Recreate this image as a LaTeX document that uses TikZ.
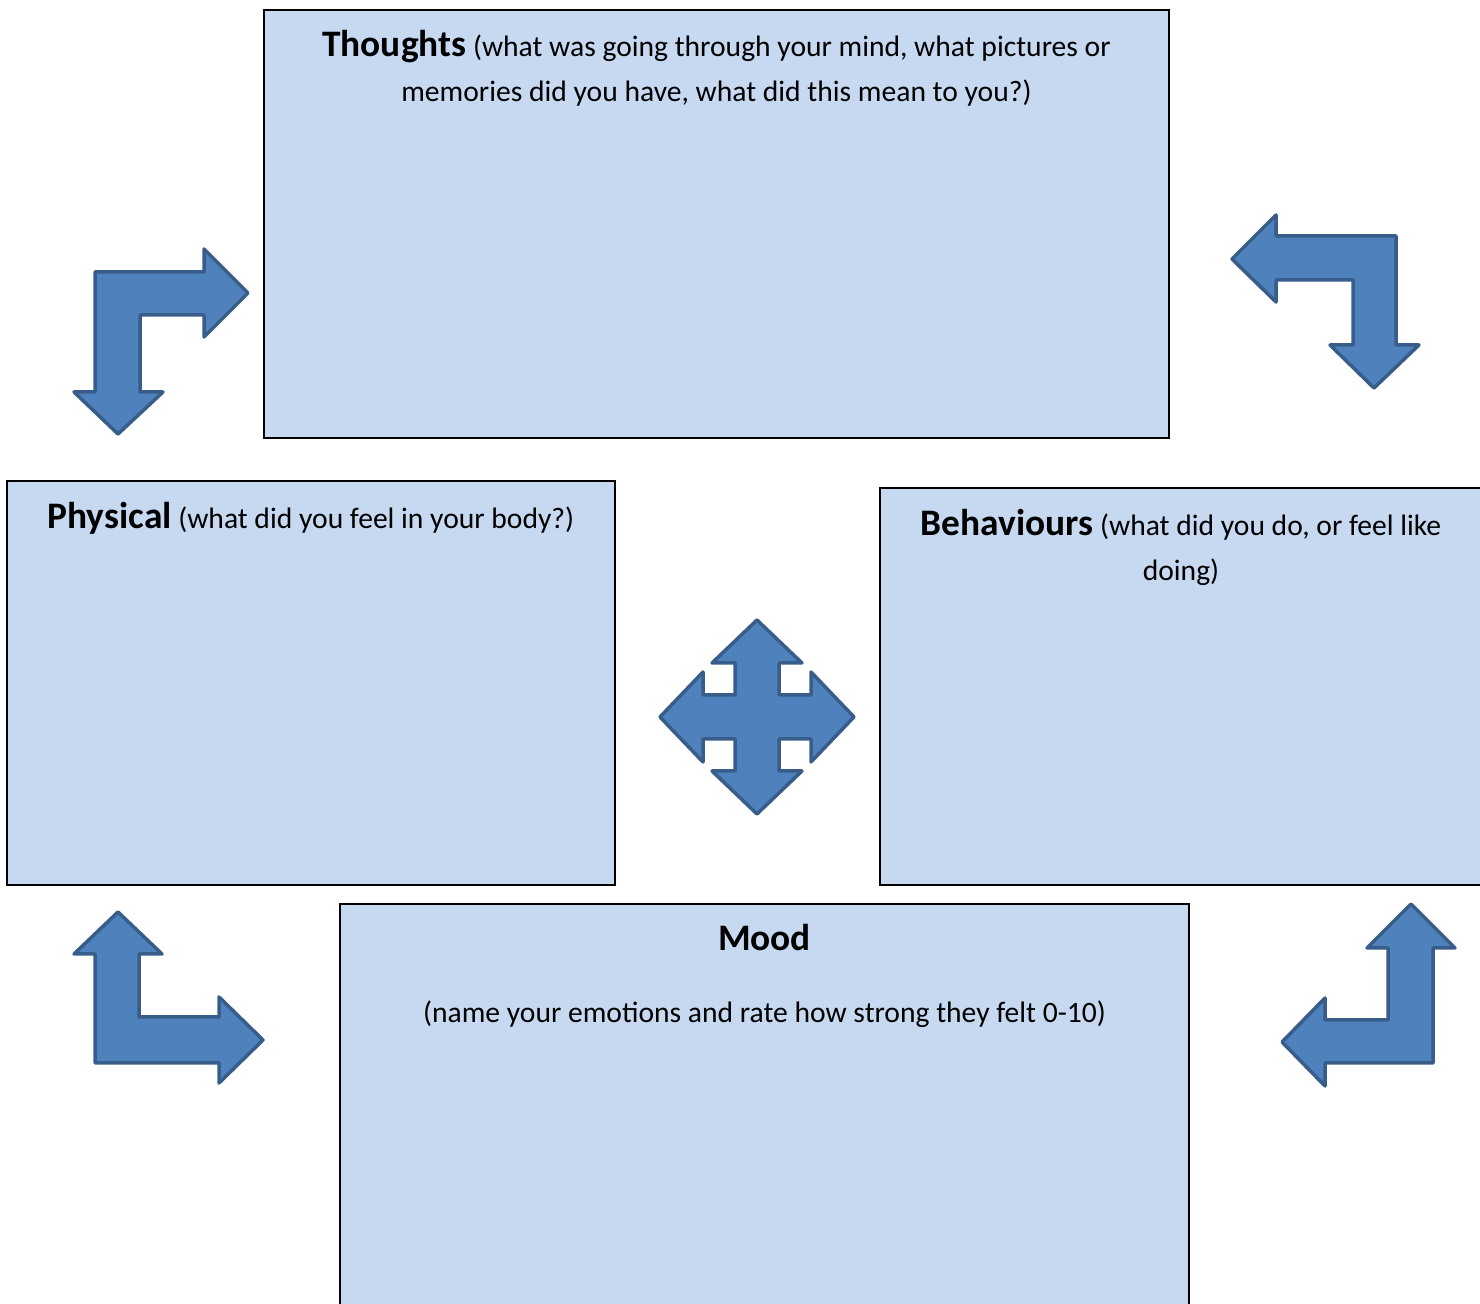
\documentclass[tikz,border=0pt]{standalone}
\usepackage{fontspec}
\setmainfont{Carlito}
\usepackage{tikz}
\usetikzlibrary{positioning}
\definecolor{boxfill}{HTML}{C6D9F1}
\definecolor{arrowfill}{HTML}{4F81BD}
\definecolor{arrowline}{HTML}{385D8A}
\newcommand{\hd}[1]{{\fontsize{18.7}{22.5}\selectfont\bfseries #1}}

\begin{document}
\begin{tikzpicture}[x=0.5pt,y=-0.5pt,
    panel/.style={draw=black, line width=1pt, fill=boxfill, rectangle, inner sep=0pt, anchor=north west},
    lbl/.style={font=\fontsize{14.8}{22.5}\selectfont, align=center, inner sep=0pt, anchor=north},
    blockarrow/.style={fill=arrowfill, draw=arrowline, line width=1.75pt, line join=round}]
    \useasboundingbox (0,0) rectangle (1480,1304);
    % panels
    \node[panel, minimum width=452.5pt, minimum height=214pt] (thoughts) at (263,9) {};
    \node[panel, minimum width=304pt, minimum height=202pt] (physical) at (6,480) {};
    \node[panel, minimum width=301pt, minimum height=198.5pt] (behaviours) at (879,487) {};
    \node[panel, minimum width=424.5pt, minimum height=215pt] (mood) at (339,903) {};
    % labels
    \node[lbl] (thoughtsText) at ([yshift=-10.5pt]thoughts.north)
      {\hd{Thoughts} (what was going through your mind, what pictures or\\memories did you have, what did this mean to you?)};
    \node[lbl] (physicalText) at ([yshift=-11pt]physical.north)
      {\hd{Physical} (what did you feel in your body?)};
    \node[lbl] (behavioursText) at ([yshift=-11pt]behaviours.north)
      {\hd{Behaviours} (what did you do, or feel like\\doing)};
    \node[lbl] (moodTitle) at ([yshift=-10.5pt]mood.north) {\hd{Mood}};
    \node[lbl, below=24.5pt of moodTitle] (moodNote)
      {(name your emotions and rate how strong they felt 0-10)};
    % arrows
    \draw[blockarrow] (95,392) -- (95,272) -- (204,272) -- (204,249) -- (248,293) -- (204,337)
      -- (204,315) -- (140,315) -- (140,392) -- (163,392) -- (118,434) -- (74,392) -- cycle;
    \draw[blockarrow] (1232,259) -- (1276,215) -- (1276,236) -- (1396,236) -- (1396,345) -- (1419,345)
      -- (1374,388) -- (1330,345) -- (1353,345) -- (1353,280) -- (1276,280) -- (1276,302) -- cycle;
    \draw[blockarrow, shift={(757,717)}] (0,-97) -- (45,-54) -- (22,-54) -- (22,-22) -- (54,-22) -- (54,-45)
      -- (97,0) -- (54,45) -- (54,22) -- (22,22) -- (22,54) -- (45,54) -- (0,97) -- (-45,54) -- (-22,54)
      -- (-22,22) -- (-54,22) -- (-54,45) -- (-97,0) -- (-54,-45) -- (-54,-22) -- (-22,-22) -- (-22,-54)
      -- (-45,-54) -- cycle;
    \draw[blockarrow] (118,912) -- (162,954) -- (139,954) -- (139,1017) -- (219,1017) -- (219,997)
      -- (263,1040) -- (219,1083) -- (219,1063) -- (95,1063) -- (95,954) -- (74,954) -- cycle;
    \draw[blockarrow] (1411,904) -- (1455,948) -- (1433,948) -- (1433,1063) -- (1325,1063) -- (1325,1086)
      -- (1282,1042) -- (1325,998) -- (1325,1020) -- (1388,1020) -- (1388,948) -- (1367,948) -- cycle;
\end{tikzpicture}
\end{document}
